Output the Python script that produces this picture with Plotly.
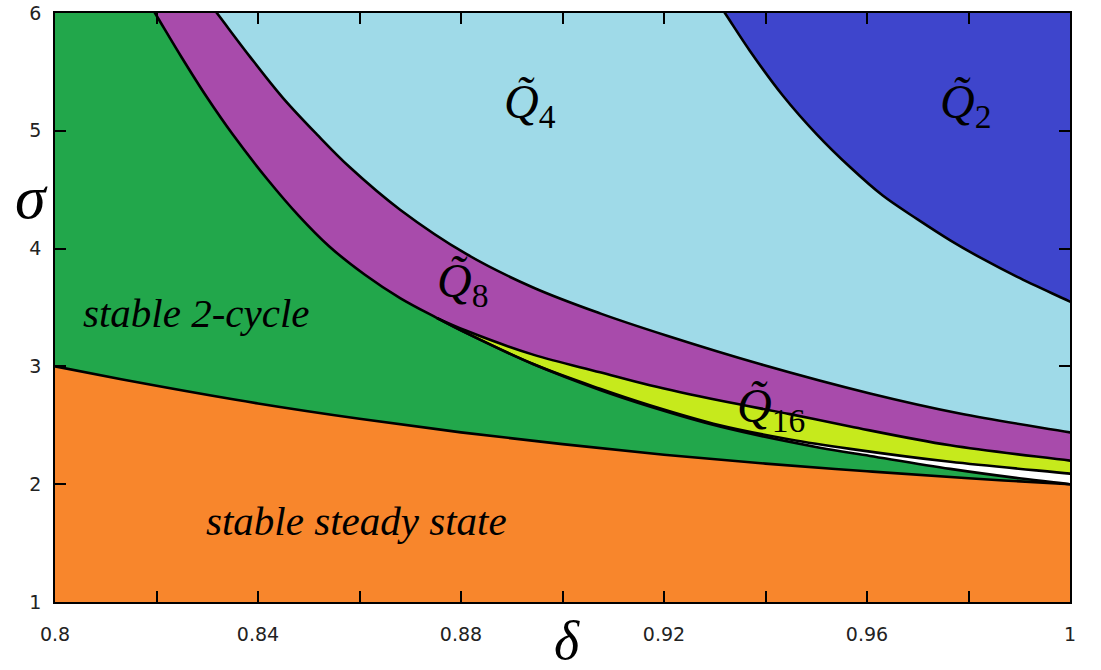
import plotly.graph_objects as go

# ---- data (delta, sigma) ----
# A: steady state / 2-cycle boundary
A_delta = [0.80, 0.82, 0.84, 0.86, 0.88, 0.90, 0.92, 0.94, 0.96, 0.98, 1.00]
A_sigma = [3.00, 2.835, 2.685, 2.555, 2.44, 2.34, 2.25, 2.175, 2.11, 2.05, 2.00]
# B: upper boundary of stable 2-cycle region
B_delta = [0.8197, 0.8250, 0.8300, 0.8350, 0.8420, 0.8480, 0.8540, 0.8610, 0.8680, 0.8753,
           0.8812, 0.8942, 0.9074, 0.9172, 0.9310, 0.9507, 0.9606, 0.9764, 0.9900, 1.00]
B_sigma = [6.00, 5.62, 5.28, 4.97, 4.58, 4.28, 4.02, 3.78, 3.58, 3.41,
           3.28, 3.02, 2.80, 2.66, 2.49, 2.31, 2.24, 2.13, 2.05, 2.00]
# C: lower boundary of Q4 region
C_delta = [0.8319, 0.8384, 0.8449, 0.8516, 0.8581, 0.8680, 0.8812, 0.8942, 0.9074, 0.9206,
           0.9389, 0.9606, 0.9783, 1.00]
C_sigma = [6.00, 5.63, 5.28, 4.97, 4.69, 4.33, 3.95, 3.67, 3.45, 3.26,
           3.02, 2.77, 2.60, 2.44]
# D: upper boundary of Q16 region
D_delta = [0.8753, 0.8812, 0.8942, 0.9074, 0.9172, 0.9310, 0.9448, 0.9567, 0.9764, 1.00]
D_sigma = [3.41, 3.30, 3.10, 2.95, 2.84, 2.71, 2.595, 2.49, 2.33, 2.20]
# E: lower boundary of Q16 region
E_delta = [0.8753, 0.8812, 0.8942, 0.9074, 0.9172, 0.9310, 0.9448, 0.9567, 0.9764, 1.00]
E_sigma = [3.41, 3.28, 3.02, 2.81, 2.67, 2.50, 2.38, 2.30, 2.19, 2.09]
# F: lower boundary of Q2 region
F_delta = [0.9320, 0.9369, 0.9434, 0.9501, 0.9567, 0.9631, 0.9699, 0.9764, 0.9829, 0.9896, 1.00]
F_sigma = [6.00, 5.68, 5.30, 4.97, 4.69, 4.45, 4.25, 4.07, 3.91, 3.76, 3.55]

x_tickvals = [0.80, 0.82, 0.84, 0.86, 0.88, 0.90, 0.92, 0.94, 0.96, 0.98, 1.00]
x_ticktext = ["0.8", "", "0.84", "", "0.88", "", "0.92", "", "0.96", "", "1"]
y_tickvals = [1, 2, 3, 4, 5, 6]
y_ticktext = ["1", "2", "3", "4", "5", "6"]

ORANGE = "#F8862C"
GREEN = "#22A74B"
PURPLE = "#A84BAB"
LIGHTBLUE = "#9FDAE8"
DARKBLUE = "#3E45CC"
YELLOW = "#C6EA1C"
WHITE = "#FFFFFF"

xmin, xmax, ymin, ymax = 0.8, 1.0, 1.0, 6.0
FAR = 0.25   # how far the off-plot closing corners go (in delta units)


def extend(xs, ys, start=True, end=True):
    """Extend a boundary past the plot edges along its end slopes (off-plot, clipped)."""
    xs, ys = list(xs), list(ys)
    if start:
        s = (ys[1] - ys[0]) / (xs[1] - xs[0])
        dx = 0.01
        xs.insert(0, xs[0] - dx)
        ys.insert(0, ys[0] - s * dx)
    if end:
        s = (ys[-1] - ys[-2]) / (xs[-1] - xs[-2])
        dx = 0.01
        xs.append(xs[-1] + dx)
        ys.append(ys[-1] + s * dx)
    return xs, ys


fig = go.Figure()
SPL = dict(shape="spline", smoothing=1.0)


def poly(xs, ys, color):
    fig.add_trace(go.Scatter(x=xs, y=ys, mode="lines", fill="toself", fillcolor=color,
                             line=dict(width=0, color=color, **SPL), hoverinfo="skip",
                             showlegend=False))


Ax, Ay = extend(A_delta, A_sigma)
Bx, By = extend(B_delta, B_sigma)
Cx, Cy = extend(C_delta, C_sigma)
Dx, Dy = extend(D_delta, D_sigma, start=False)
Ex, Ey = extend(E_delta, E_sigma, start=False)
Fx, Fy = extend(F_delta, F_sigma)

top, bot = ymax + 3, ymin - 3
right, left = xmax + FAR, xmin - FAR

# orange (below A)
poly(Ax + [right, right, left, left], Ay + [Ay[-1], bot, bot, Ay[0]], ORANGE)
# green (above A)
poly(Ax + [right, right, left, left], Ay + [Ay[-1], top, top, Ay[0]], GREEN)
# purple (above B)
poly(Bx + [right, right, Bx[0]], By + [By[-1], top, top], PURPLE)
# white (between E and B)
Bsub = [(d, s) for d, s in zip(Bx, By) if d >= E_delta[0]]
poly(Ex + [d for d, s in reversed(Bsub)], Ey + [s for d, s in reversed(Bsub)], WHITE)
# yellow-green (between D and E)
poly(Dx + Ex[::-1], Dy + Ey[::-1], YELLOW)
# light blue (above C)
poly(Cx + [right, right, Cx[0]], Cy + [Cy[-1], top, top], LIGHTBLUE)
# dark blue (above F)
poly(Fx + [right, right, Fx[0]], Fy + [Fy[-1], top, top], DARKBLUE)

for xs, ys in [(Ax, Ay), (Bx, By), (Cx, Cy), (Dx, Dy), (Ex, Ey), (Fx, Fy)]:
    fig.add_trace(go.Scatter(x=xs, y=ys, mode="lines",
                             line=dict(color="black", width=2.6, **SPL),
                             hoverinfo="skip", showlegend=False))

serif = "Liberation Serif"
qsize = 48
ann = [
    dict(x=0.8880, y=5.22, text="<i>Q̃</i><sub>4</sub>"),
    dict(x=0.9740, y=5.22, text="<i>Q̃</i><sub>2</sub>"),
    dict(x=0.8748, y=3.70, text="<i>Q̃</i><sub>8</sub>"),
    dict(x=0.9340, y=2.64, text="<i>Q̃</i><sub>16</sub>"),
]
for a in ann:
    fig.add_annotation(x=a["x"], y=a["y"], text=a["text"], showarrow=False,
                       xanchor="left", yanchor="middle",
                       font=dict(family=serif, size=qsize, color="black"))

fig.add_annotation(x=0.8278, y=3.45, text="<i>stable 2-cycle</i>", showarrow=False,
                   xanchor="center", yanchor="middle",
                   font=dict(family=serif, size=41, color="black"))
fig.add_annotation(x=0.8595, y=1.69, text="<i>stable steady state</i>", showarrow=False,
                   xanchor="center", yanchor="middle",
                   font=dict(family=serif, size=41, color="black"))

# axis titles
fig.add_annotation(xref="paper", yref="paper", x=-0.0227, y=0.688, text="<i>σ</i>",
                   xanchor="center", yanchor="middle",
                   showarrow=False, font=dict(family=serif, size=62, color="black"))
fig.add_annotation(xref="paper", yref="paper", x=0.504, y=-0.066, text="<i>δ</i>",
                   xanchor="center", yanchor="middle",
                   showarrow=False, font=dict(family=serif, size=54, color="black"))

axis_common = dict(showgrid=False, zeroline=False, ticks="inside", ticklen=11,
                   tickwidth=1.5, tickcolor="black", showline=True, linecolor="black",
                   linewidth=1.5, mirror="ticks", automargin=False,
                   ticklabeloverflow="allow",
                   tickfont=dict(family="DejaVu Sans", size=19, color="#222222"))

fig.update_xaxes(range=[xmin, xmax], tickmode="array", tickvals=x_tickvals,
                 ticktext=x_ticktext, ticklabelstandoff=14, **axis_common)
fig.update_yaxes(range=[ymin, ymax], tickmode="array", tickvals=y_tickvals,
                 ticktext=y_ticktext, ticklabelstandoff=8, **axis_common)

fig.update_layout(width=1101, height=670,
                  margin=dict(l=55, r=31, t=13, b=68, autoexpand=False),
                  paper_bgcolor="white", plot_bgcolor="white", showlegend=False)

# remove the default 8px page margin so the figure sits at the window's top-left
fig.write_html("out.html", config={"displayModeBar": False},
               post_script="document.body.style.margin='0';")
